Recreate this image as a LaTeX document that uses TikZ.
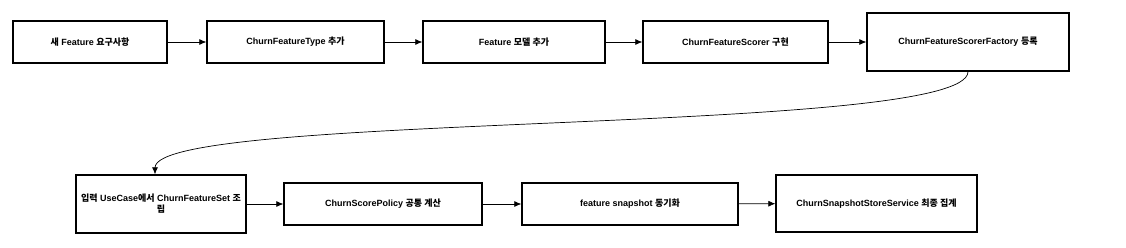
\documentclass[tikz,border=0pt]{standalone}
\usepackage{fontspec}
\setmainfont{Liberation Sans}
\newfontfamily\kr{Noto Sans CJK KR}
\usepackage{tikz}
\usetikzlibrary{
	arrows.meta,
	positioning,
	calc
}

\tikzset{
	stepbox/.style={draw,line width=1.3pt,rectangle,align=center,
		font=\fontsize{9}{11}\selectfont\bfseries},
	flow/.style={-{Latex[length=7pt,width=6pt]},line width=0.7pt}
}

\begin{document}
\begin{tikzpicture}[x=1pt,y=-1pt]
		
		\useasboundingbox (0,0) rectangle (1126,247);
		
		%---------------- top row ----------------%
		
		\node[stepbox,minimum width=154pt,minimum height=42pt] (req) at (90,42)
		{{\kr 새} Feature {\kr 요구사항}};
		
		\node[stepbox,minimum width=177pt,minimum height=42pt] (type) at (295.5,42)
		{ChurnFeatureType {\kr 추가}};
		
		\node[stepbox,minimum width=182pt,minimum height=42pt] (model) at (514,42)
		{Feature {\kr 모델 추가}};
		
		\node[stepbox,minimum width=185pt,minimum height=42pt] (scorer) at (735.5,42)
		{ChurnFeatureScorer {\kr 구현}};
		
		\node[stepbox,minimum width=202pt,minimum height=58pt] (factory) at (968,42)
		{ChurnFeatureScorerFactory {\kr 등록}};
		
		%---------------- bottom row ----------------%
		
		\node[stepbox,minimum width=170pt,minimum height=58pt] (usecase) at (161,204)
		{{\kr 입력} UseCase{\kr 에서} ChurnFeatureSet {\kr 조}\\{\kr 립}};
		
		\node[stepbox,minimum width=198pt,minimum height=42pt] (policy) at (383,204)
		{ChurnScorePolicy {\kr 공통 계산}};
		
		\node[stepbox,minimum width=216pt,minimum height=42pt] (snap) at (630,204)
		{feature snapshot {\kr 동기화}};
		
		\node[stepbox,minimum width=201pt,minimum height=57pt] (store) at (876.5,203.5)
		{ChurnSnapshotStoreService {\kr 최종 집계}};
		
		%---------------- arrows ----------------%
		
		\draw[flow] (req)--(type);
		\draw[flow] (type)--(model);
		\draw[flow] (model)--(scorer);
		\draw[flow] (scorer)--(factory);
		
		\draw[flow] (factory.south) .. controls +(0,64) and +(0,-63) .. ([xshift=-6pt]usecase.north);
		
		\draw[flow] (usecase)--(policy);
		\draw[flow] (policy)--(snap);
		\draw[flow] (snap)--(store);
		
	\end{tikzpicture}
\end{document}
